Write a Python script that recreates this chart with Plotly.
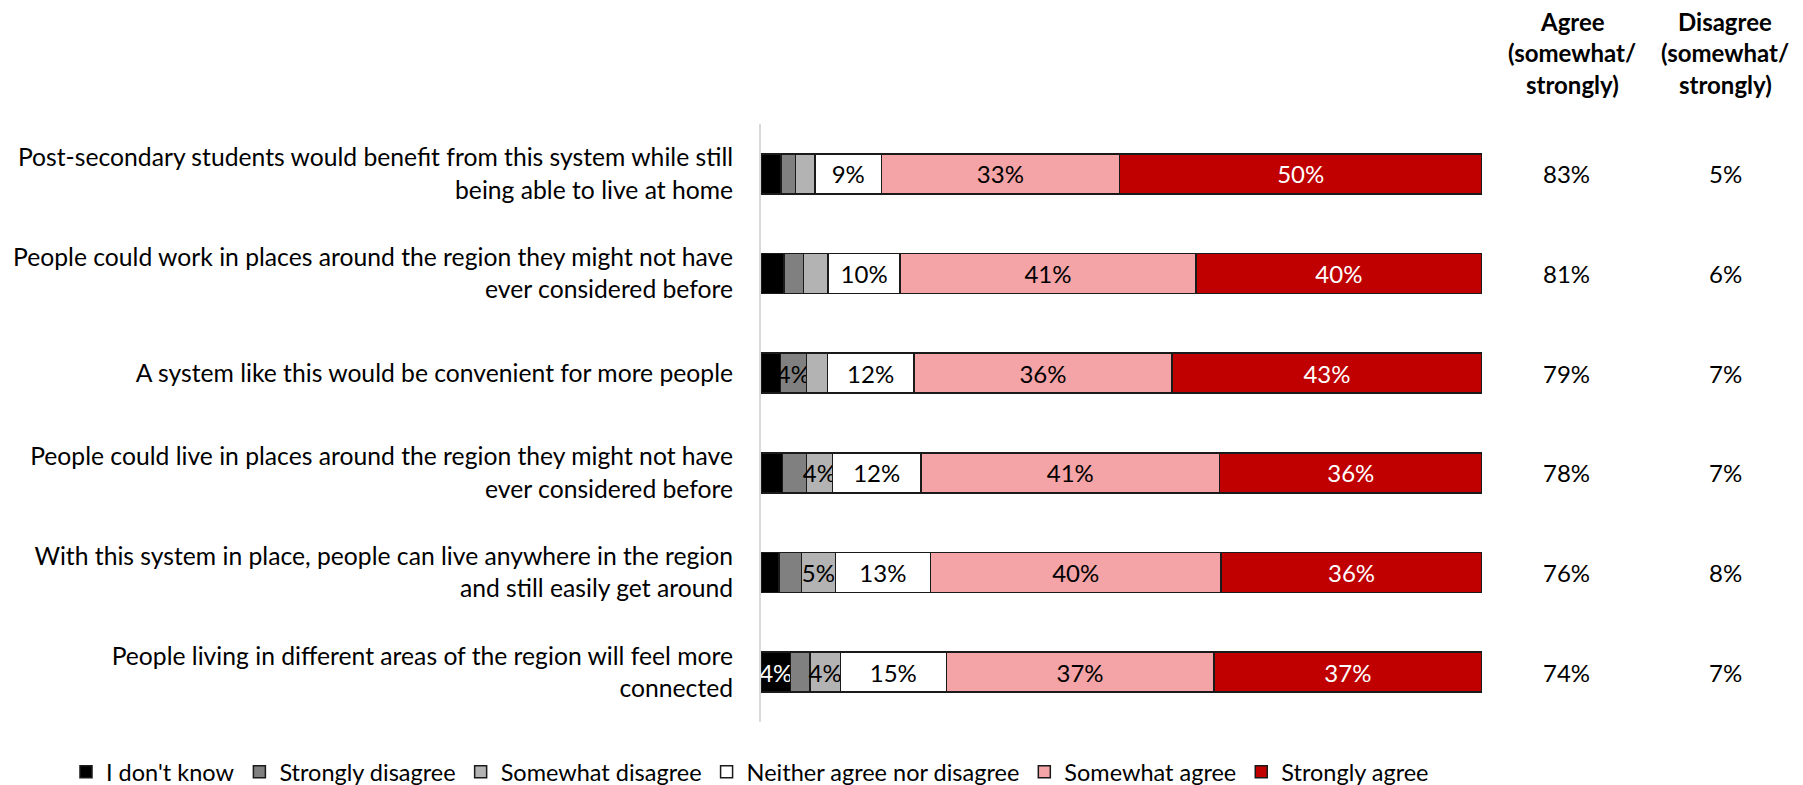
import plotly.graph_objects as go

categories = [
    "Post-secondary students would benefit from this system while still<br>being able to live at home",
    "People could work in places around the region they might not have<br>ever considered before",
    "A system like this would be convenient for more people",
    "People could live in places around the region they might not have<br>ever considered before",
    "With this system in place, people can live anywhere in the region<br>and still easily get around",
    "People living in different areas of the region will feel more<br>connected",
]

dont_know = [2.8, 3.2, 2.7, 3.0, 2.5, 4.1]
strongly_disagree = [2.0, 2.7, 3.6, 3.3, 3.1, 2.7]
somewhat_disagree = [2.7, 3.4, 2.9, 3.6, 4.7, 4.2]
neither = [9.2, 10.0, 12.0, 12.3, 13.2, 14.7]
somewhat_agree = [33.0, 41.0, 35.8, 41.4, 40.3, 37.1]
strongly_agree = [50.3, 39.7, 43.0, 36.4, 36.2, 37.2]

agree_total = ["83%", "81%", "79%", "78%", "76%", "74%"]
disagree_total = ["5%", "6%", "7%", "7%", "8%", "7%"]

series = [
    ("I don't know", dont_know, "#000000", "#ffffff"),
    ("Strongly disagree", strongly_disagree, "#808080", "#000000"),
    ("Somewhat disagree", somewhat_disagree, "#b3b3b3", "#000000"),
    ("Neither agree nor disagree", neither, "#ffffff", "#000000"),
    ("Somewhat agree", somewhat_agree, "#f4a4a6", "#000000"),
    ("Strongly agree", strongly_agree, "#c00000", "#ffffff"),
]

FONT = "Lato"
FS = 24

fig = go.Figure()
for name, vals, color, tcolor in series:
    labels = [f"{round(v)}%" if round(v) >= 4 else "" for v in vals]
    fig.add_trace(go.Bar(
        y=categories, x=vals, name=name, orientation="h",
        marker=dict(color=color, line=dict(color="#1a1a1a", width=1.5)),
        text=labels, textposition="inside", insidetextanchor="middle",
        textangle=0,
        textfont=dict(color=tcolor, size=FS, family=FONT),
        constraintext="none", cliponaxis=False,
    ))

OFF = 8  # page body margin offset
W, H = 1803, 785
L = 761 - OFF
T = 124 - OFF
Rx = 1482 - OFF
Bt = 722 - OFF
plot_h = Bt - T
plot_w = Rx - L

def ypaper(px):
    return (Bt - (px - OFF)) / plot_h

def xpaper(px):
    return ((px - OFF) - L) / plot_w

ann = []
for i, c in enumerate(categories):
    ann.append(dict(x=xpaper(1566), y=c, xref="paper", yref="y", text=agree_total[i],
                    showarrow=False, font=dict(size=FS, family=FONT, color="#000000"),
                    xanchor="center", yanchor="middle"))
    ann.append(dict(x=xpaper(1725), y=c, xref="paper", yref="y", text=disagree_total[i],
                    showarrow=False, font=dict(size=FS, family=FONT, color="#000000"),
                    xanchor="center", yanchor="middle"))

headers = [
    (1572, ["Agree", "(somewhat/", "strongly)"]),
    (1725, ["Disagree", "(somewhat/", "strongly)"]),
]
for xc, lines in headers:
    for j, line in enumerate(lines):
        ann.append(dict(x=xpaper(xc), y=ypaper(22 + 31 * j), xref="paper", yref="paper",
                        text=f"<b>{line}</b>", showarrow=False,
                        font=dict(size=FS, family=FONT, color="#000000"),
                        xanchor="center", yanchor="middle", borderpad=0))

fig.update_layout(
    barmode="stack",
    width=W, height=H,
    margin=dict(l=L, r=W - Rx, t=T, b=H - Bt, autoexpand=False),
    paper_bgcolor="white", plot_bgcolor="white",
    font=dict(family=FONT, size=FS, color="#000000"),
    bargap=0.6,
    uniformtext=dict(minsize=FS, mode="show"),
    xaxis=dict(range=[0, 100], showgrid=False, showticklabels=False, zeroline=False,
               showline=False, fixedrange=True),
    yaxis=dict(categoryorder="array", categoryarray=categories, autorange="reversed",
               showline=True, linecolor="#d9d9d9", linewidth=2, ticks="",
               ticklabelstandoff=21, tickfont=dict(size=24.7, family=FONT, color="#000000"),
               showgrid=False),
    legend=dict(orientation="h", xref="paper", yref="paper",
                x=xpaper(66), xanchor="left",
                y=ypaper(772), yanchor="middle",
                font=dict(size=23.5, family=FONT), traceorder="normal",
                itemwidth=30, tracegroupgap=0),
    annotations=ann,
    showlegend=True,
)

fig.write_html("out.html")
